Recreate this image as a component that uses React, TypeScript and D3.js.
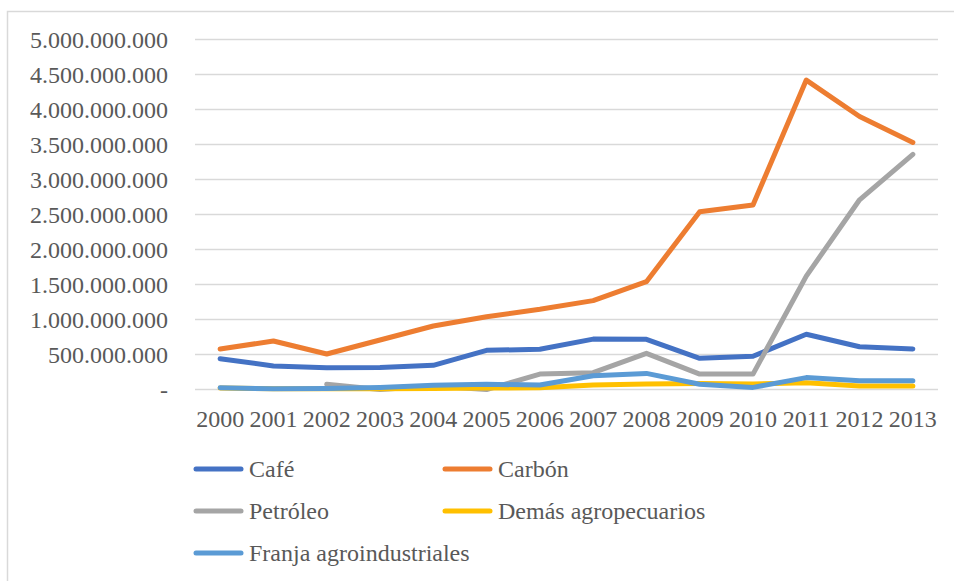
import React from "react";
import * as d3 from "d3";

const years = ["2000","2001","2002","2003","2004","2005","2006","2007","2008","2009","2010","2011","2012","2013"];
const cafe = [0.44e9,0.336e9,0.31e9,0.315e9,0.345e9,0.56e9,0.574e9,0.72e9,0.717e9,0.445e9,0.475e9,0.79e9,0.61e9,0.58e9];
const carbon = [0.578e9,0.693e9,0.507e9,0.707e9,0.907e9,1.04e9,1.146e9,1.27e9,1.54e9,2.54e9,2.636e9,4.42e9,3.9e9,3.53e9];
const petroleo: (number|null)[] = [null,null,0.074e9,0,0.05e9,0,0.22e9,0.24e9,0.517e9,0.22e9,0.22e9,1.62e9,2.71e9,3.36e9];
const demas = [0.02e9,0.01e9,0.01e9,0.01e9,0.015e9,0.02e9,0.025e9,0.064e9,0.079e9,0.085e9,0.08e9,0.095e9,0.05e9,0.05e9];
const franja = [0.026e9,0.01e9,0.015e9,0.03e9,0.06e9,0.074e9,0.064e9,0.197e9,0.23e9,0.074e9,0.03e9,0.17e9,0.126e9,0.126e9];
const yTicks = [0,0.5e9,1e9,1.5e9,2e9,2.5e9,3e9,3.5e9,4e9,4.5e9,5e9];

const seriesNames = ["Café","Carbón","Petróleo","Demás agropecuarios","Franja agroindustriales"];
const seriesValues = [cafe, carbon, petroleo, demas, franja];
const colors = ["#4472C4","#ED7D31","#A5A5A5","#FFC000","#5B9BD5"];

const W = 954, H = 581;
const FONT = "Liberation Serif, DejaVu Serif, Times New Roman, serif";
const TXT = "#595959";

export default function App() {
  const x = d3.scaleBand<string>().domain(years).range([193.5, 939.5]);
  const y = d3.scaleLinear().domain([0, 5e9]).range([389.5, 39.5]);
  const loc = d3.formatLocale({ thousands: ".", decimal: ",", grouping: [3], currency: ["", ""] });
  const fmt = (v: number) => (v === 0 ? "-" : loc.format(",.0f")(v));
  const line = d3.line<number | null>()
    .defined((d) => d !== null)
    .x((_, i) => (x(years[i]) as number) + x.bandwidth() / 2)
    .y((d) => y(d as number));

  const legendPos = [
    { lx: 196, ly: 469 },
    { lx: 445, ly: 469 },
    { lx: 196, ly: 511 },
    { lx: 445, ly: 511 },
    { lx: 196, ly: 553 },
  ];
  const ts: React.CSSProperties = { fontFamily: FONT, fontSize: "24px" };

  return (
    <div style={{ position: "fixed", left: 0, top: 0 }}>
      <svg width={W} height={H} style={{ display: "block", background: "#fff" }}>
        <rect x={7.5} y={11.5} width={970} height={600} fill="#fff" stroke="#d9d9d9" strokeWidth={1.5} />
        {yTicks.map((t) => (
          <g key={t}>
            <line x1={195} x2={938} y1={y(t)} y2={y(t)} stroke="#d9d9d9" strokeWidth={1.5} />
            <text x={168} y={y(t)} dy="0.35em" textAnchor="end" style={ts} fill={TXT}>
              {fmt(t)}
            </text>
          </g>
        ))}
        {years.map((yr) => (
          <text key={yr} x={(x(yr) as number) + x.bandwidth() / 2} y={419} dy="0.35em" textAnchor="middle"
            style={ts} fill={TXT}>{yr}</text>
        ))}
        {seriesValues.map((vals, i) => (
          <path key={seriesNames[i]} d={line(vals as (number | null)[]) || ""} fill="none" stroke={colors[i]}
            strokeWidth={5} strokeLinejoin="round" strokeLinecap="round" />
        ))}
        {seriesNames.map((n, i) => (
          <g key={n}>
            <line x1={legendPos[i].lx} x2={legendPos[i].lx + 45} y1={legendPos[i].ly} y2={legendPos[i].ly}
              stroke={colors[i]} strokeWidth={5} strokeLinecap="round" />
            <text x={legendPos[i].lx + 53} y={legendPos[i].ly} dy="0.35em" style={ts} fill={TXT}>{n}</text>
          </g>
        ))}
      </svg>
    </div>
  );
}
